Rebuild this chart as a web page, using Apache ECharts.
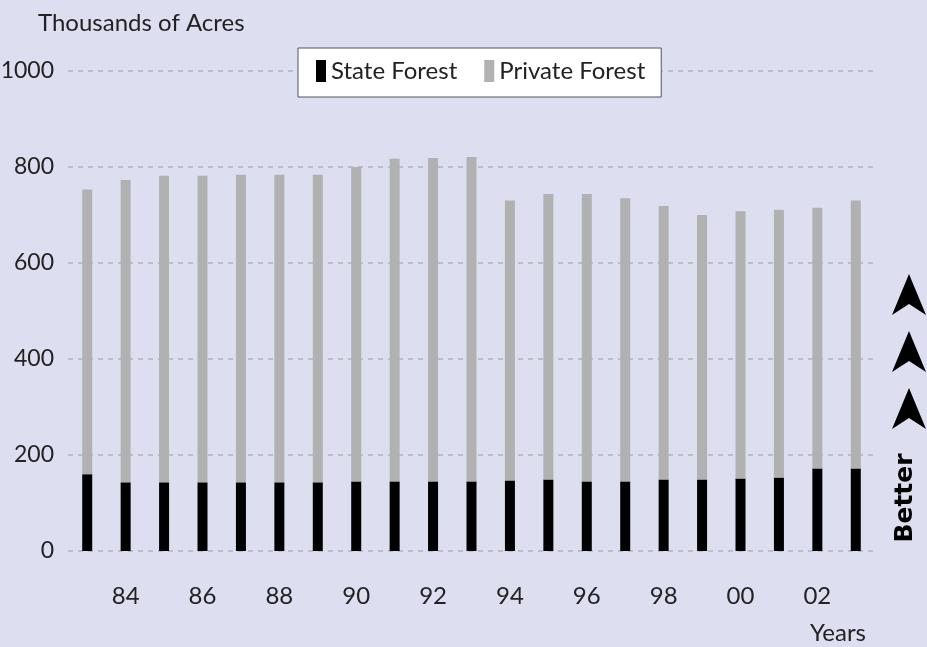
<!DOCTYPE html>
<html>
<head>
<meta charset="utf-8">
<script src="https://cdn.jsdelivr.net/npm/echarts@6/dist/echarts.min.js"></script>
<style>
  html, body { margin: 0; padding: 0; background: #dddff0; }
</style>
</head>
<body>
<div id="main" style="width: 927px; height: 647px"></div>
<script>
// years 1983 - 2003, thousands of acres
var years = ["83", "84", "85", "86", "87", "88", "89", "90", "91", "92", "93",
  "94", "95", "96", "97", "98", "99", "00", "01", "02", "03"];
var stateForest = [160, 143, 143, 143, 143, 143, 143, 145, 145, 145, 145,
  147, 149, 145, 145, 149, 149, 151, 153, 172, 172];
var privateForest = [593, 630, 639, 639, 641, 641, 641, 655, 672, 674, 676,
  583, 595, 599, 590, 570, 551, 557, 558, 543, 558];
var yTicks = [0, 200, 400, 600, 800, 1000];

var font = "Lato";
var textColor = "#222";

// arrowhead shape for the "Better" marker
function arrow(cx, top) {
  return {
    type: "polygon",
    shape: {
      points: [[cx, top], [cx + 17, top + 41], [cx, top + 30], [cx - 17, top + 41]],
    },
    style: { fill: "#000" },
  };
}

var chartDom = document.getElementById("main");
var myChart = echarts.init(chartDom);
var option;
option = {
  backgroundColor: "#dddff0",
  animation: false,
  title: {
    text: "Thousands of Acres",
    left: 33,
    top: 6,
    textStyle: { fontFamily: font, fontSize: 24, fontWeight: "normal", color: textColor },
  },
  legend: {
    data: ["State Forest", "Private Forest"],
    left: 298,
    top: 48,
    padding: [11, 16, 14, 18],
    itemWidth: 10,
    itemHeight: 22,
    itemGap: 27,
    icon: "rect",
    backgroundColor: "#fff",
    borderColor: "#555",
    borderWidth: 1,
    borderRadius: 0,
    textStyle: { fontFamily: font, fontSize: 24, color: textColor },
  },
  grid: {
    left: 68,
    right: 52,
    top: 71,
    bottom: 96,
    containLabel: false,
    outerBoundsMode: "none",
  },
  xAxis: {
    type: "category",
    data: years,
    name: "Years",
    nameLocation: "end",
    nameGap: -9,
    nameTextStyle: {
      fontFamily: font,
      fontSize: 24,
      color: textColor,
      align: "right",
      verticalAlign: "top",
      padding: [70, 0, 0, 0],
    },
    axisLine: { show: false },
    axisTick: { show: false },
    axisLabel: {
      fontFamily: font,
      fontSize: 24,
      color: textColor,
      margin: 33,
      interval: function (index) {
        return index % 2 === 1;
      },
    },
  },
  yAxis: {
    type: "value",
    min: yTicks[0],
    max: yTicks[yTicks.length - 1],
    interval: 200,
    axisLine: { show: false },
    axisTick: { show: false },
    axisLabel: {
      fontFamily: font,
      fontSize: 23,
      color: textColor,
      margin: 14,
      formatter: function (v) {
        return String(v);
      },
    },
    splitLine: {
      lineStyle: { color: "#b3b3bb", width: 1.5, type: [5, 5] },
    },
  },
  series: [
    {
      name: "State Forest",
      type: "bar",
      stack: "total",
      barWidth: 10,
      itemStyle: { color: "#000" },
      data: stateForest,
    },
    {
      name: "Private Forest",
      type: "bar",
      stack: "total",
      barWidth: 10,
      itemStyle: { color: "#b1b1b1" },
      data: privateForest,
    },
  ],
  graphic: [
    arrow(909, 274),
    arrow(909, 331),
    arrow(909, 388),
    {
      type: "text",
      x: 905,
      y: 498,
      rotation: Math.PI / 2,
      style: {
        text: "Better",
        font: "bold 25px 'DejaVu Sans'",
        fill: "#000",
        align: "center",
        verticalAlign: "middle",
      },
    },
  ],
};
myChart.setOption(option);
</script>
</body>
</html>
